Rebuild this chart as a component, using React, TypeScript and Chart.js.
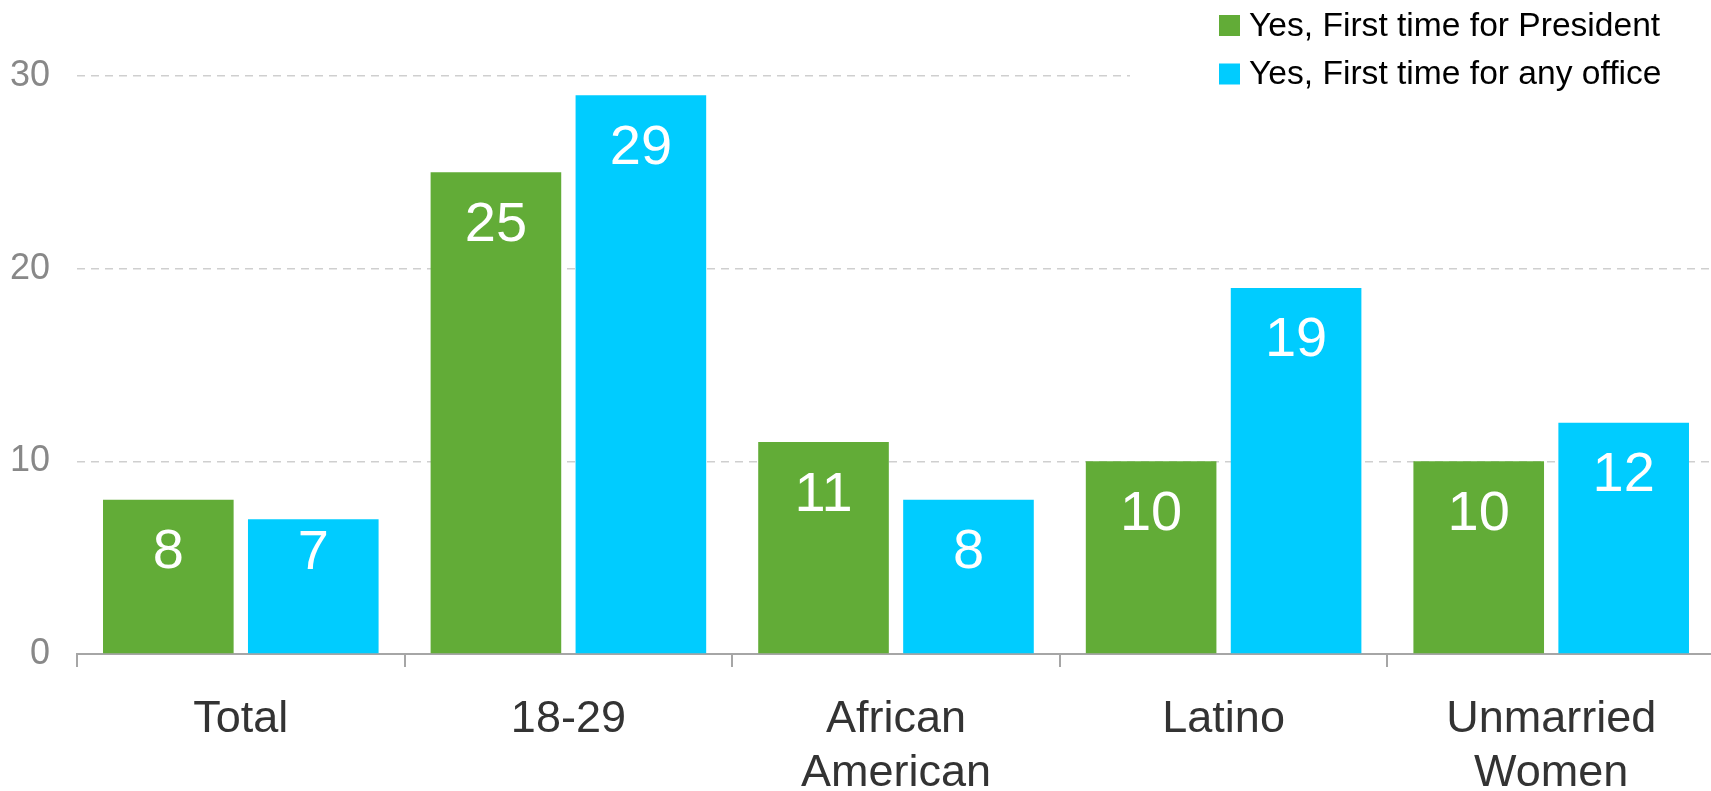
import React, { useEffect, useRef } from 'react';
import { Chart, registerables } from 'chart.js';

Chart.register(...registerables);

const categories: (string | string[])[] = ['Total', '18-29', ['African', 'American'], 'Latino', ['Unmarried', 'Women']];
const seriesNames = ['Yes, First time for President', 'Yes, First time for any office'];
const firstTimePresident = [8, 25, 11, 10, 10];
const firstTimeAnyOffice = [7, 29, 8, 19, 12];
const yTickValues = [0, 10, 20, 30];
const seriesColors = ['#62AC37', '#00CCFF'];

const FONT = '"Liberation Sans", Arial, Helvetica, sans-serif';

const dataLabelPlugin = {
  id: 'dataLabelPlugin',
  afterDatasetsDraw(chart: any) {
    const ctx = chart.ctx;
    ctx.save();
    ctx.font = `56px ${FONT}`;
    ctx.fillStyle = '#ffffff';
    ctx.textAlign = 'center';
    ctx.textBaseline = 'middle';
    chart.data.datasets.forEach((ds: any, di: number) => {
      const meta = chart.getDatasetMeta(di);
      meta.data.forEach((el: any, i: number) => {
        const p = el.getProps(['x', 'y', 'base'], true);
        const ty = Math.min(p.y + 53, p.base - 100);
        ctx.fillText(String(ds.data[i]), p.x, ty);
      });
    });
    ctx.restore();
  },
};

const legendPlugin = {
  id: 'legendBoxPlugin',
  afterDraw(chart: any) {
    const ctx = chart.ctx;
    ctx.save();
    ctx.fillStyle = '#ffffff';
    ctx.fillRect(1130, 0, chart.width - 1130, 98);
    ctx.font = `33.6px ${FONT}`;
    ctx.textAlign = 'left';
    ctx.textBaseline = 'middle';
    const centers = [25.5, 74];
    chart.data.datasets.forEach((ds: any, i: number) => {
      const cy = centers[i];
      ctx.fillStyle = ds.backgroundColor;
      ctx.fillRect(1219, cy - 10.5, 21, 21);
      ctx.fillStyle = '#000000';
      ctx.fillText(ds.label, 1249, cy + 1);
    });
    ctx.restore();
  },
};

export default function App() {
  const canvasRef = useRef<HTMLCanvasElement | null>(null);

  useEffect(() => {
    const canvas = canvasRef.current;
    if (!canvas) return;
    const chart = new Chart(canvas, {
      type: 'bar',
      data: {
        labels: categories as any,
        datasets: [
          {
            label: seriesNames[0],
            data: firstTimePresident,
            backgroundColor: seriesColors[0],
            borderWidth: 0,
            categoryPercentage: 0.885,
            barPercentage: 0.901,
          },
          {
            label: seriesNames[1],
            data: firstTimeAnyOffice,
            backgroundColor: seriesColors[1],
            borderWidth: 0,
            categoryPercentage: 0.885,
            barPercentage: 0.901,
          },
        ],
      },
      options: {
        responsive: false,
        animation: false,
        devicePixelRatio: 1,
        layout: { padding: { top: 76, right: 1, bottom: 0, left: 0 } },
        plugins: {
          legend: { display: false },
          tooltip: { enabled: false },
        },
        scales: {
          x: {
            grid: {
              drawOnChartArea: false,
              drawTicks: true,
              tickLength: 13,
              tickColor: '#a6a6a6',
              tickWidth: 2,
              color: '#a6a6a6',
              lineWidth: 2,
            },
            border: { display: true, color: '#a6a6a6', width: 2 },
            ticks: {
              font: { family: FONT, size: 45 },
              color: '#333333',
              padding: 26,
              maxRotation: 0,
              autoSkip: false,
            },
            afterFit: (s: any) => {
              s.height = 137;
            },
          },
          y: {
            min: 0,
            max: 30,
            grid: {
              color: (c: any) => (c.tick && c.tick.value === 0 ? 'rgba(0,0,0,0)' : '#cfcfcf'),
              lineWidth: 1.5,
              drawTicks: false,
            },
            border: { display: false, dash: [8, 6] },
            ticks: {
              font: { family: FONT, size: 36 },
              color: '#888888',
              padding: 27,
            },
            afterBuildTicks: (s: any) => {
              s.ticks = yTickValues.map((v) => ({ value: v }));
            },
            afterFit: (s: any) => {
              s.width = 77;
            },
          },
        },
      },
      plugins: [dataLabelPlugin, legendPlugin],
    } as any);
    return () => chart.destroy();
  }, []);

  return (
    <div
      style={{
        position: 'fixed',
        left: 0,
        top: 0,
        width: 1711,
        height: 791,
        overflow: 'hidden',
        background: '#ffffff',
      }}
    >
      <canvas ref={canvasRef} width={1716} height={791} style={{ display: 'block', width: 1716, height: 791 }} />
    </div>
  );
}
